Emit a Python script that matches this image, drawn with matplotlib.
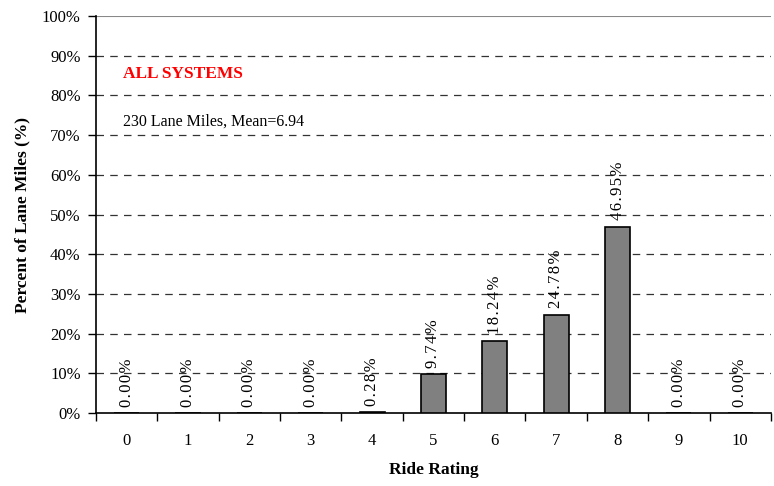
import matplotlib.pyplot as plt
import numpy as np
from matplotlib.ticker import FixedLocator, PercentFormatter

plt.rcParams['font.family'] = ['Liberation Serif', 'DejaVu Serif']

# данные
ratings = [0, 1, 2, 3, 4, 5, 6, 7, 8, 9, 10]
percents = [0.00, 0.00, 0.00, 0.00, 0.28, 9.74, 18.24, 24.78, 46.95, 0.00, 0.00]
labels = ["0.00%", "0.00%", "0.00%", "0.00%", "0.28%", "9.74%",
          "18.24%", "24.78%", "46.95%", "0.00%", "0.00%"]

fig = plt.figure(figsize=(7.74, 4.86), dpi=100)
ax = fig.add_axes([0.124, 0.150, 0.872, 0.817])

x = np.arange(len(ratings))
ax.bar(x, percents, width=0.41, color="#808080", edgecolor="black",
       linewidth=1.2, zorder=3)

# подписи над столбцами (с разрядкой, как в оригинале)
for xi, v, lab in zip(x, percents, labels):
    ax.text(xi, v + 1.6, "\u200a".join(lab), rotation=90, ha="center",
            va="bottom", fontsize=12, zorder=4)

ax.set_xlim(-0.5, len(ratings) - 0.5)
ax.set_ylim(0, 100)
ax.set_yticks(np.arange(0, 101, 10))
ax.yaxis.set_major_formatter(PercentFormatter(decimals=0))

ax.set_xticks(x)
ax.set_xticklabels([str(r) for r in ratings])
ax.xaxis.set_minor_locator(FixedLocator(np.arange(-0.5, len(ratings), 1)))
ax.tick_params(axis="x", which="major", length=0, pad=14, labelsize=12)
ax.tick_params(axis="x", which="minor", length=6, width=1, direction="out")
ax.tick_params(axis="y", length=6, width=1, direction="out", labelsize=12,
               pad=5)

# сетка
for yv in range(10, 100, 10):
    ax.axhline(yv, color="#333333", linestyle=(0, (6, 5)), linewidth=0.9,
               zorder=1)
ax.axhline(100, color="#888888", linewidth=1.5, zorder=1)

for s in ["top", "right"]:
    ax.spines[s].set_visible(False)
ax.spines["left"].set_linewidth(1.2)
ax.spines["bottom"].set_linewidth(1.2)

ax.text(0.04, 0.855, "ALL SYSTEMS", transform=ax.transAxes, color="red",
        fontweight="bold", fontsize=12.5, va="center")
ax.text(0.04, 0.735, "230 Lane Miles, Mean=6.94", transform=ax.transAxes,
        fontsize=11.5, va="center")

ax.set_xlabel("Ride Rating", fontweight="bold", fontsize=12.5, labelpad=10)
ax.set_ylabel("Percent of Lane Miles (%)", fontweight="bold", fontsize=12.5,
              labelpad=8)

fig.savefig("out.png", dpi=100)
